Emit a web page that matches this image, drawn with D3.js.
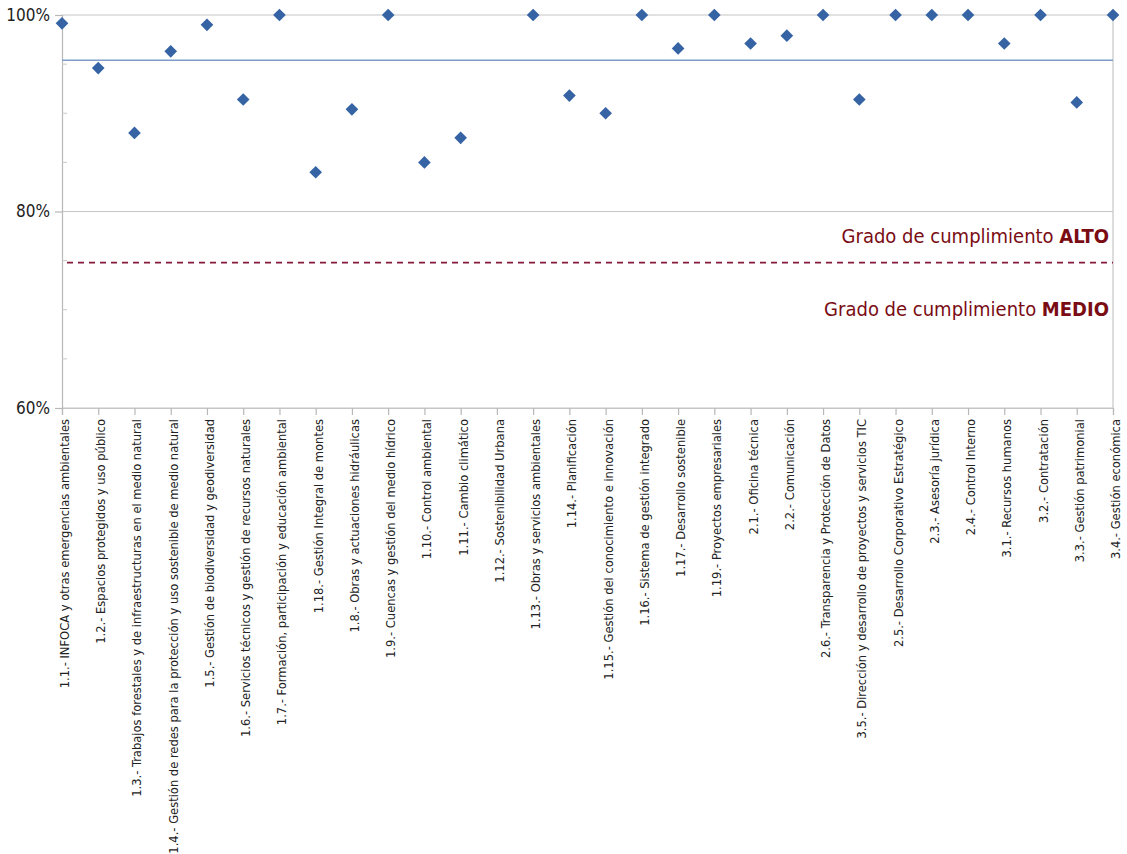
<!DOCTYPE html>
<html><head><meta charset="utf-8">
<script src="https://cdn.jsdelivr.net/npm/d3@7"></script>
<style>body{margin:0;background:#fff}</style>
</head><body>
<svg id="chart" width="1127" height="854"></svg>
<script>
const categories = [
 "1.1.- INFOCA y otras emergencias ambientales",
 "1.2.- Espacios protegidos y uso público",
 "1.3.- Trabajos forestales y de infraestructuras en el medio natural",
 "1.4.- Gestión de redes para la protección y uso sostenible de medio natural",
 "1.5.- Gestión de biodiversidad y geodiversidad",
 "1.6.- Servicios técnicos y gestión de recursos naturales",
 "1.7.- Formación, participación y educación ambiental",
 "1.18.- Gestión Integral de montes",
 "1.8.- Obras y actuaciones hidráulicas",
 "1.9.- Cuencas y gestión del medio hídrico",
 "1.10.- Control ambiental",
 "1.11.- Cambio climático",
 "1.12.- Sostenibilidad Urbana",
 "1.13.- Obras y servicios ambientales",
 "1.14.- Planificación",
 "1.15.- Gestión del conocimiento e innovación",
 "1.16.- Sistema de gestión integrado",
 "1.17.- Desarrollo sostenible",
 "1.19.- Proyectos empresariales",
 "2.1.- Oficina técnica",
 "2.2.- Comunicación",
 "2.6.- Transparencia y Protección de Datos",
 "3.5.- Dirección y desarrollo de proyectos y servicios TIC",
 "2.5.- Desarrollo Corporativo Estratégico",
 "2.3.- Asesoría jurídica",
 "2.4.- Control Interno",
 "3.1.- Recursos humanos",
 "3.2.- Contratación",
 "3.3.- Gestión patrimonial",
 "3.4.- Gestión económica"
];
const values = [99.15, 94.6, 88.0, 96.3, 99.0, 91.4, 100, 84.0, 90.4, 100,
  85.0, 87.5, null, 100, 91.8, 90.0, 100, 96.6, 100, 97.1,
  97.9, 100, 91.4, 100, 100, 100, 97.1, 100, 91.1, 100];
const yTicks = [60, 80, 100];
const yMinorTicks = [65, 70, 75, 85, 90, 95];
const averageValue = 95.4;
const thresholdValue = 74.8;
const labelAlto = ["Grado de cumplimiento ", "ALTO"];
const labelMedio = ["Grado de cumplimiento ", "MEDIO"];

(function () {
const FONT = "'DejaVu Sans Condensed','DejaVu Sans',sans-serif";
const svg = d3.select("#chart");
const pl = 62, pr = 1113, pt = 15, pb = 408;

const x = d3.scalePoint().domain(d3.range(categories.length)).range([pl, pr]).padding(0);
const y = d3.scaleLinear().domain([60, 100]).range([pb, pt]);

svg.append("g").selectAll("line").data(yTicks).join("line")
  .attr("x1", pl).attr("x2", pr)
  .attr("y1", d => y(d)).attr("y2", d => y(d))
  .attr("stroke", "#c6c6c6").attr("stroke-width", 1.2);

const yAxis = svg.append("g").attr("transform", `translate(${pl},0)`)
  .call(d3.axisLeft(y).tickValues(yTicks).tickFormat(d => d + "%").tickSize(7).tickPadding(5));
yAxis.select(".domain").attr("stroke", "#b8b8b8").attr("stroke-width", 1.2);
yAxis.selectAll(".tick line").attr("stroke", "#b8b8b8").attr("stroke-width", 1.2);
yAxis.selectAll("text").attr("font-family", FONT).attr("font-size", 17).attr("fill", "#222");
svg.append("g").selectAll("line").data(yMinorTicks).join("line")
  .attr("x1", pl).attr("x2", pl + 5)
  .attr("y1", d => y(d)).attr("y2", d => y(d))
  .attr("stroke", "#c6c6c6").attr("stroke-width", 1);

svg.append("line").attr("x1", pr).attr("x2", pr).attr("y1", pt).attr("y2", pb)
  .attr("stroke", "#c6c6c6").attr("stroke-width", 1.2);

const xAxis = svg.append("g").attr("transform", `translate(0,${pb})`)
  .call(d3.axisBottom(x).tickFormat(i => categories[i]).tickSize(7).tickPadding(4));
xAxis.select(".domain").attr("stroke", "#c6c6c6").attr("stroke-width", 1.2);
xAxis.selectAll(".tick line").attr("stroke", "#b8b8b8").attr("stroke-width", 1.2);
xAxis.selectAll("text")
  .attr("font-family", FONT).attr("font-size", 12.8).attr("fill", "#222")
  .attr("text-anchor", "end").attr("dy", "0.35em")
  .attr("transform", "rotate(-90)").attr("x", -11).attr("y", 2);

svg.append("line").attr("x1", pl).attr("x2", pr)
  .attr("y1", y(averageValue)).attr("y2", y(averageValue))
  .attr("stroke", "#7d9cc8").attr("stroke-width", 1.5);

svg.append("line").attr("x1", pl + 5).attr("x2", pr)
  .attr("y1", y(thresholdValue)).attr("y2", y(thresholdValue))
  .attr("stroke", "#86183a").attr("stroke-width", 1.8).attr("stroke-dasharray", "6,5");

function lbl(parts, yy) {
  const t = svg.append("text").attr("x", 1109).attr("y", yy)
    .attr("text-anchor", "end").attr("font-family", FONT).attr("font-size", 20).attr("fill", "#7a0c14");
  t.append("tspan").text(parts[0]);
  t.append("tspan").attr("font-weight", "bold").text(parts[1]);
}
lbl(labelAlto, 243);
lbl(labelMedio, 316);

const data = values.map((v, i) => ({i, v})).filter(d => d.v !== null);
svg.append("g").selectAll("path").data(data).join("path")
  .attr("d", d3.symbol(d3.symbolSquare, 80)())
  .attr("transform", d => `translate(${x(d.i)},${y(d.v)}) rotate(45)`)
  .attr("fill", "#3563a4");
})();
</script>
</body></html>
